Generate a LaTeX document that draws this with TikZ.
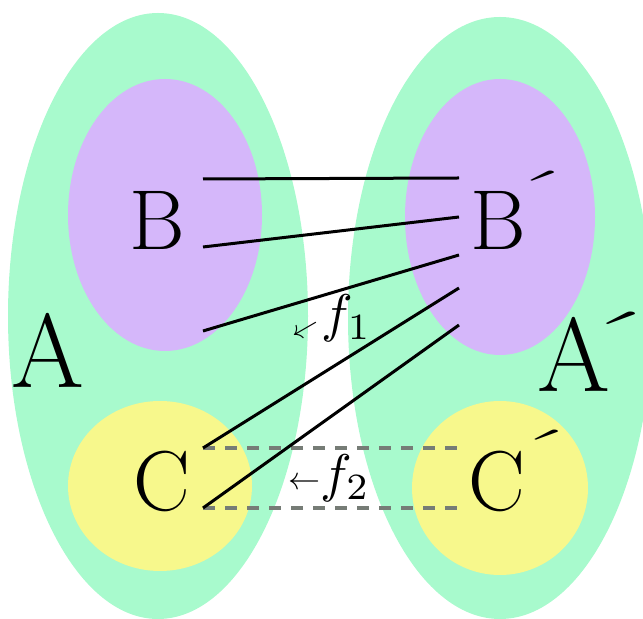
\documentclass[tikz,border=0pt]{standalone}
\usetikzlibrary{shapes.geometric}
\definecolor{mint}{RGB}{168,250,205}
\definecolor{lilac}{RGB}{213,183,250}
\definecolor{lemon}{RGB}{247,248,140}
\definecolor{dashgray}{RGB}{118,124,118}
\newcommand{\bigfont}{\fontsize{42.5}{42.5}\selectfont}
\newcommand{\hugefont}{\fontsize{52.5}{52.5}\selectfont}
\newcommand{\myprime}[2]{\kern#1\raisebox{#2}{\scalebox{1.6}[0.65]{´}}}
\begin{document}
\begin{tikzpicture}[x=0.5pt,y=-0.5pt,
  region/.style={ellipse, inner sep=0pt, draw=none},
  setouter/.style={region, fill=mint},
  setb/.style={region, fill=lilac},
  setc/.style={region, fill=lemon},
  setlabel/.style={anchor=base west, inner sep=0pt, font=\bigfont},
  biglabel/.style={anchor=base west, inner sep=0pt, font=\hugefont},
  maplabel/.style={anchor=base west, inner sep=0pt},
  mapline/.style={black, line width=1.5pt},
  dashline/.style={dashgray, line width=2pt, dash pattern=on 6pt off 5pt}
]
\clip (0,0) rectangle (643,619);
% regions
\node[setouter, minimum width=150pt, minimum height=303pt] (A) at (158,316) {};
\node[setouter, minimum width=152pt, minimum height=301pt] (A2) at (500,318) {};
\node[setb, minimum width=97pt, minimum height=136pt] (B) at (165,215) {};
\node[setb, minimum width=95pt, minimum height=138pt] (B2) at (500,217) {};
\node[setc, minimum width=92pt, minimum height=85pt] (C) at (160,486) {};
\node[setc, minimum width=88pt, minimum height=87pt] (C2) at (500,488) {};
% labels
\node[biglabel] (tA) at (11,388) {A};
\node[biglabel] (tA2) at (537,392) {A\myprime{-0.31em}{0.31em}};
\node[setlabel] (tB) at (129,250) {B};
\node[setlabel] (tB2) at (470,250) {B\myprime{-0.22em}{0.48em}};
\node[setlabel] (tC) at (133,511) {C};
\node[setlabel] (tC2) at (468,511) {C\myprime{-0.16em}{0.5em}};
% end points
\coordinate (l1a) at (203,179); \coordinate (l1b) at (459,178);
\coordinate (l2a) at (203,247); \coordinate (l2b) at (459,217);
\coordinate (l3a) at (203,331); \coordinate (l3b) at (459,255);
\coordinate (l4a) at (203,448); \coordinate (l4b) at (459,288);
\coordinate (l5a) at (203,508); \coordinate (l5b) at (459,325);
\coordinate (d1a) at (203,448); \coordinate (d1b) at (459,448);
\coordinate (d2a) at (203,508); \coordinate (d2b) at (459,508);
% dashed map f2
\draw[dashline] (d1a) -- (d1b);
\draw[dashline] (d2a) -- (d2b);
% solid map f1
\draw[mapline] (l1a) -- (l1b);
\draw[mapline] (l2a) -- (l2b);
\draw[mapline] (l3a) -- (l3b);
\draw[mapline] (l4a) -- (l4b);
\draw[mapline] (l5a) -- (l5b);
% map labels
\node[maplabel] (f1) at (291,332) {\raisebox{-2pt}{\scalebox{1.45}{\rotatebox[origin=c]{30}{$\leftarrow$}}}\scalebox{2.65}{$f_1$}};
\node[maplabel] (f2) at (288,492) {\raisebox{1pt}{\scalebox{1.6}{$\leftarrow$}}\scalebox{2.65}{$f_2$}};
\end{tikzpicture}
\end{document}
